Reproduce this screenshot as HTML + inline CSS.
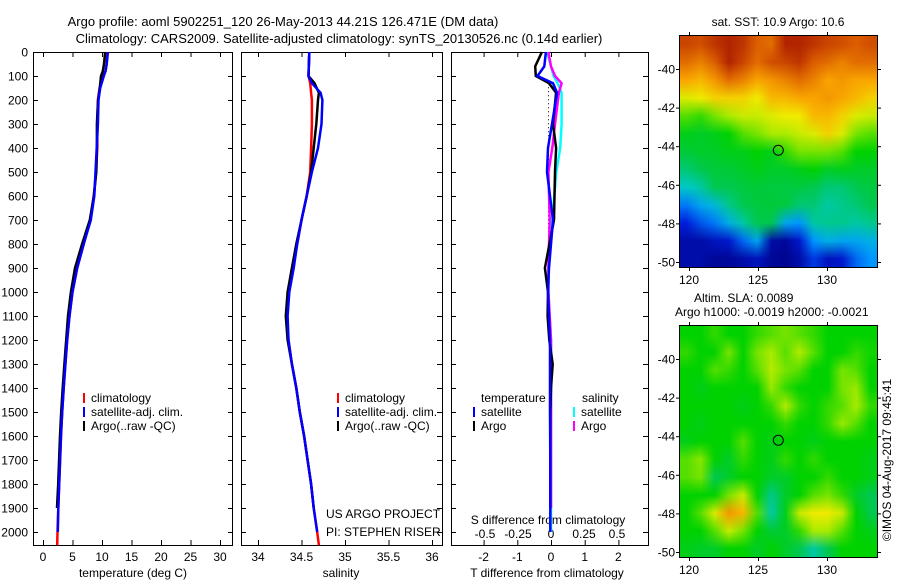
<!DOCTYPE html>
<html><head><meta charset="utf-8">
<style>
html,body{margin:0;padding:0;background:#fff;}
#wrap{position:relative;width:900px;height:580px;overflow:hidden;font-family:"Liberation Sans",sans-serif;}
svg{position:absolute;left:0;top:0;}
canvas{position:absolute;}
text{font-family:"Liberation Sans",sans-serif;font-size:12px;fill:#000;}
</style></head>
<body>
<div id="wrap">
<canvas id="sst" width="14" height="13" style="left:679px;top:35px;width:198px;height:232px;"></canvas>
<canvas id="sla" width="14" height="13" style="left:679px;top:325px;width:198px;height:232px;"></canvas>
<svg id="fig" width="900" height="580"></svg>
</div>
<script>
// ---------- data ----------
const depthT = [0,50,80,100,150,200,300,400,500,600,700,800,900,1000,1100,1200,1300,1400,1500,1600,1700,1800,1900,2000,2055];
const tempClim = [10.9,10.8,10.6,10.1,9.6,9.3,9.2,9.2,9.0,8.6,8.0,6.9,5.8,5.0,4.5,4.1,3.8,3.5,3.25,3.05,2.9,2.75,2.6,2.45,2.4];
const tempSat  = [11.0,10.8,10.6,10.3,9.7,9.4,9.3,9.1,8.9,8.7,8.1,6.9,5.8,5.0,4.5,4.1,3.8,3.5,3.25,3.05,2.9,2.75,2.6,2.5];
const tempArgo = [10.7,10.5,10.3,10.0,9.8,9.5,9.3,9.3,9.2,8.8,8.1,6.8,5.6,4.9,4.4,4.1,3.8,3.5,3.25,3.05,2.9,2.75,2.55];
const depthS = [0,100,130,170,200,300,400,500,600,700,800,900,1000,1100,1200,1300,1400,1500,1600,1700,1800,1900,2000,2055];
const salClim = [34.59,34.58,34.6,34.61,34.62,34.62,34.61,34.6,34.56,34.5,34.45,34.4,34.35,34.33,34.35,34.39,34.44,34.48,34.53,34.57,34.61,34.64,34.68,34.70];
const salSat  = [34.59,34.58,34.62,34.72,34.74,34.73,34.69,34.62,34.56,34.5,34.45,34.41,34.36,34.34,34.35,34.39,34.44,34.48,34.53,34.57,34.61,34.64,34.68];
const salArgo = [34.59,34.58,34.65,34.70,34.69,34.67,34.64,34.61,34.56,34.5,34.44,34.39,34.34,34.32,34.34,34.39,34.44,34.48,34.53,34.57,34.61,34.64];
const depthD = [0,60,100,130,170,300,400,500,700,900,1000,1100,1200,1300,1400,1500,1700,1900,2000];
const tDiffSat  = [-0.15,-0.2,-0.4,0.06,0.18,0.03,-0.09,-0.12,0.06,-0.06,-0.09,-0.06,-0.03,-0.03,-0.03,-0.03,-0.02,-0.02,-0.02];
const tDiffArgo = [-0.27,-0.47,-0.45,-0.06,0.15,0.06,0.15,0.12,0.09,-0.18,-0.09,-0.1,-0.05,0.05,0.0,-0.02,-0.02,-0.02];
const sDiffSat  = [-0.03,0.0,0.02,0.05,0.08,0.08,0.07,0.04,0.01,-0.02,-0.02,-0.01,0,0,0,0,0,0,0];
const sDiffArgo = [-0.02,0.0,0.03,0.08,0.06,0.03,0.01,-0.02,-0.01,-0.02,-0.02,-0.01,0,0,0,0,0,0];
const depthTicks = [0,100,200,300,400,500,600,700,800,900,1000,1100,1200,1300,1400,1500,1600,1700,1800,1900,2000];
const tempTicks = [0,5,10,15,20,25,30];
const salTicks = [34,34.5,35,35.5,36];
const tdTicks = [-2,-1,0,1,2];
const sdTickVals = [-0.5,-0.25,0,0.25,0.5];
const sdTickLabels = ["-0.5","-0.25","0","0.25","0.5"];
const lonTicks = [120,125,130];
const latTicks = [-40,-42,-44,-46,-48,-50];
const argoLon = 126.471, argoLat = -44.21;
const sstGrid = [
[.93,.92,.95,.97,.95,.9,.88,.97,.97,.95,.93,.92,.9,.92],
[.88,.85,.9,.97,.93,.88,.92,.93,.95,.9,.88,.85,.88,.88],
[.8,.78,.82,.88,.85,.8,.82,.85,.88,.85,.8,.82,.8,.8],
[.7,.72,.75,.75,.75,.72,.78,.78,.8,.8,.82,.8,.78,.75],
[.6,.58,.62,.65,.68,.68,.7,.72,.72,.78,.78,.75,.7,.68],
[.52,.5,.52,.55,.6,.62,.65,.65,.68,.7,.75,.7,.62,.6],
[.48,.5,.5,.52,.52,.55,.52,.58,.62,.62,.62,.6,.55,.55],
[.42,.45,.48,.48,.5,.52,.5,.5,.52,.55,.5,.52,.5,.5],
[.35,.38,.45,.45,.47,.48,.47,.47,.47,.45,.42,.42,.45,.47],
[.22,.28,.32,.4,.45,.47,.48,.47,.42,.42,.38,.4,.42,.45],
[.12,.18,.22,.3,.38,.45,.45,.28,.25,.38,.4,.4,.38,.4],
[.05,.05,.08,.1,.2,.28,.05,.03,.1,.25,.3,.28,.28,.3],
[.05,.05,.03,.03,.05,.08,.03,.02,.05,.15,.08,.1,.2,.25]];
const slaGrid = [
[.55,.55,.58,.55,.55,.58,.6,.62,.6,.58,.55,.55,.55,.55],
[.58,.55,.55,.62,.55,.62,.65,.6,.66,.6,.55,.55,.58,.56],
[.55,.55,.6,.58,.55,.6,.66,.62,.6,.55,.55,.62,.6,.55],
[.55,.52,.55,.55,.55,.55,.64,.58,.55,.55,.55,.62,.64,.55],
[.55,.55,.55,.55,.52,.55,.58,.66,.58,.55,.58,.6,.65,.58],
[.55,.52,.55,.55,.55,.55,.55,.58,.55,.55,.58,.64,.6,.55],
[.52,.55,.55,.55,.6,.55,.52,.55,.55,.52,.55,.55,.55,.55],
[.6,.63,.55,.5,.58,.55,.52,.58,.55,.58,.55,.55,.55,.52],
[.6,.62,.45,.5,.55,.55,.5,.5,.55,.55,.58,.55,.55,.52],
[.55,.55,.55,.62,.68,.55,.4,.5,.55,.6,.62,.58,.5,.45],
[.55,.6,.7,.82,.78,.6,.38,.52,.68,.72,.72,.68,.55,.45],
[.55,.55,.6,.68,.62,.55,.48,.5,.58,.65,.65,.6,.55,.52],
[.52,.5,.5,.55,.55,.5,.55,.5,.45,.38,.45,.55,.55,.55]];

// ---------- scales ----------
const PT=52, PB=545;
const yD = d => PT + d*0.24;
const xT = t => 43 + t*5.9;
const xS = s => 258 + (s-34)*87;
const xTD = v => 551 + v*33.7;
const xSD = v => 551 + v*132;
const mapL=679, mapR=877;
const xLon = l => 689 + (l-120)*13.8;
const yLat1 = la => 69 + (-40-la)*19.3;
const yLat2 = la => 359 + (-40-la)*19.3;

const NS="http://www.w3.org/2000/svg";
const svg=document.getElementById('fig');
function mk(tag, attrs, parent){const e=document.createElementNS(NS,tag);for(const k in attrs)e.setAttribute(k,attrs[k]);(parent||svg).appendChild(e);return e;}
function txt(x,y,s,anchor,parent){const e=mk('text',{x:x,y:y,'text-anchor':anchor||'start'},parent);e.textContent=s;return e;}

let t1=txt(283,26,"Argo profile: aoml 5902251_120 26-May-2013 44.21S 126.471E (DM data)","middle");


t1.style.fontSize='13px';
let t2=txt(339,43,"Climatology: CARS2009. Satellite-adjusted climatology: synTS_20130526.nc (0.14d earlier)","middle");


t2.style.fontSize='13px';

function panel(name,x0,x1){
  const r=mk('rect',{x:x0+0.5,y:PT+0.5,width:x1-x0,height:PB-PT,fill:'none',stroke:'#000','stroke-width':1});
  
  
}
function line(name,xs,ds,xf,color,w){
  let pts=[];
  for(let i=0;i<xs.length;i++){
    pts.push(xf(xs[i]).toFixed(1)+','+yD(ds[i]).toFixed(1));
  }
  const p=mk('polyline',{points:pts.join(' '),fill:'none',stroke:color,'stroke-width':w||2.5,'stroke-linejoin':'miter'});
  
  
  return p;
}
function xticks(x0,x1,vals,labels,xf,ly,name){
  const g=mk('g',{});
  
  
  vals.forEach((v,i)=>{const x=xf(v)+0.5;
    mk('line',{x1:x,x2:x,y1:PT,y2:PT+5,stroke:'#000'},g);
    mk('line',{x1:x,x2:x,y1:PB,y2:PB-5,stroke:'#000'},g);
    if(labels) txt(xf(v),ly,labels[i],'middle',g);});
}
function yticks(x0,x1,labels,name){
  const g=mk('g',{});
  
  
  depthTicks.forEach(d=>{const y=yD(d)+0.5;
    mk('line',{x1:x0,x2:x0+5,y1:y,y2:y,stroke:'#000'},g);
    mk('line',{x1:x1,x2:x1-5,y1:y,y2:y,stroke:'#000'},g);
    if(labels) txt(x0-5,y+4,String(d),'end',g);});
}

panel('temperature-panel',33,232);
yticks(33,233,true,'depth-axis');
xticks(33,233,tempTicks,tempTicks.map(String),xT,561,'temperature-axis');
line('temp-climatology',tempClim,depthT,xT,'#f00',2.5);
line('temp-argo',tempArgo,depthT,t=>xT(t)-1,'#000',2.5);
line('temp-satellite',tempSat,depthT,xT,'#00f',2.5);
let a1=txt(133,577,"temperature (deg C)","middle");



panel('salinity-panel',241,442);
yticks(241,442,false,'salinity-depth-ticks');
xticks(241,442,salTicks,["34","34.5","35","35.5","36"],xS,561,'salinity-axis');
line('sal-climatology',salClim,depthS,xS,'#f00',2.5);
line('sal-argo',salArgo,depthS,xS,'#000',2.5);
line('sal-satellite',salSat,depthS,xS,'#00f',2.5);
let a2=txt(341,577,"salinity","middle");



panel('difference-panel',451,648);
yticks(451,648,false,'difference-depth-ticks');
xticks(451,648,tdTicks,tdTicks.map(String),xTD,561,'t-difference-axis');
const sdg=mk('g',{});


sdTickVals.forEach((v,i)=>txt(xSD(v),538,sdTickLabels[i],'middle',sdg));
txt(548,524,"S difference from climatology","middle",sdg);
let zl=mk('line',{x1:548.5,x2:548.5,y1:yD(130),y2:yD(1200),stroke:'#000','stroke-dasharray':'1,3'});


line('s-diff-satellite',sDiffSat,depthD,xSD,'#0ff',2.5);
line('s-diff-argo',sDiffArgo,depthD,xSD,'#f0f',2.5);
line('t-diff-argo',tDiffArgo,depthD,xTD,'#000',2.5);
line('t-diff-satellite',tDiffSat,depthD,xTD,'#00f',2.5);
let a3=txt(547,577,"T difference from climatology","middle");



function legItem(name,x,y,color,label){
  const g=mk('g',{});
  
  
  mk('rect',{x:x,y:y-5,width:2,height:10,fill:color},g);
  txt(x+8,y+4,label,'start',g);
}
legItem('legend-climatology',83,398,'#f00','climatology');
legItem('legend-satellite-adj',83,412,'#00f','satellite-adj. clim.');
legItem('legend-argo',83,426,'#000','Argo(..raw -QC)');
legItem('legend2-climatology',337,398,'#f00','climatology');
legItem('legend2-satellite-adj',337,412,'#00f','satellite-adj. clim.');
legItem('legend2-argo',337,426,'#000','Argo(..raw -QC)');
let lt=txt(481,402,'temperature');


let ls=txt(582,402,'salinity');


legItem('legend-t-satellite',473,412,'#00f','satellite');
legItem('legend-t-argo',473,426,'#000','Argo');
legItem('legend-s-satellite',573,412,'#0ff','satellite');
legItem('legend-s-argo',573,426,'#f0f','Argo');
const cr=mk('g',{});


txt(326,518,'US ARGO PROJECT','start',cr);
txt(326,536,'PI: STEPHEN RISER','start',cr);

// ---------- maps ----------
const cmapStops=[[0,0,0,130],[.12,0,30,220],[.25,0,150,255],[.35,0,200,200],[.45,0,200,80],[.55,0,210,0],[.65,170,235,0],[.72,240,235,0],[.8,250,165,0],[.9,220,95,0],[1,160,10,0]];
function cmap(v){
  v=Math.max(0,Math.min(1,v));
  for(let i=1;i<cmapStops.length;i++){
    const a=cmapStops[i-1],b=cmapStops[i];
    if(v<=b[0]){const f=(v-a[0])/(b[0]-a[0]);
      return `rgb(${Math.round(a[1]+(b[1]-a[1])*f)},${Math.round(a[2]+(b[2]-a[2])*f)},${Math.round(a[3]+(b[3]-a[3])*f)})`;}
  }
  return 'rgb(160,10,0)';
}
function drawGrid(id,grid){
  const c=document.getElementById(id).getContext('2d');
  grid.forEach((row,j)=>row.forEach((v,i)=>{c.fillStyle=cmap(v);c.fillRect(i,j,1,1);}));
}
drawGrid('sst',sstGrid);
drawGrid('sla',slaGrid);

function mapFrame(name,top,bot,yLat,labelY){
  const g=mk('g',{});
  
  
  mk('rect',{x:mapL+0.5,y:top+0.5,width:mapR-mapL,height:bot-top,fill:'none',stroke:'#000'},g);
  lonTicks.forEach(l=>{const x=xLon(l)+0.5;
    mk('line',{x1:x,x2:x,y1:top-3,y2:top+1,stroke:'#000'},g);
    mk('line',{x1:x,x2:x,y1:bot,y2:bot+4,stroke:'#000'},g);
    txt(xLon(l),labelY,String(l),'middle',g);});
  latTicks.forEach(la=>{const y=yLat(la)+0.5;
    mk('line',{x1:mapL-3,x2:mapL,y1:y,y2:y,stroke:'#000'},g);
    mk('line',{x1:mapR,x2:mapR+4,y1:y,y2:y,stroke:'#000'},g);
    txt(mapL-4,y+4,String(la),'end',g);});
  const c=mk('circle',{cx:xLon(argoLon),cy:yLat(argoLat),r:5,fill:'none',stroke:'#000'});
  
  
}
mapFrame('sst-map-axes',35,267,yLat1,284);
mapFrame('sla-map-axes',325,557,yLat2,574);
let st=txt(778,26,'sat. SST: 10.9 Argo: 10.6','middle');


let sl1=txt(694,302,'Altim. SLA: 0.0089');


let sl2=txt(675,316,'Argo h1000: -0.0019 h2000: -0.0021');


let im=txt(0,0,'©IMOS 04-Aug-2017 09:45:41','middle');
im.setAttribute('transform','translate(891,460) rotate(-90)');


</script>
</body></html>
